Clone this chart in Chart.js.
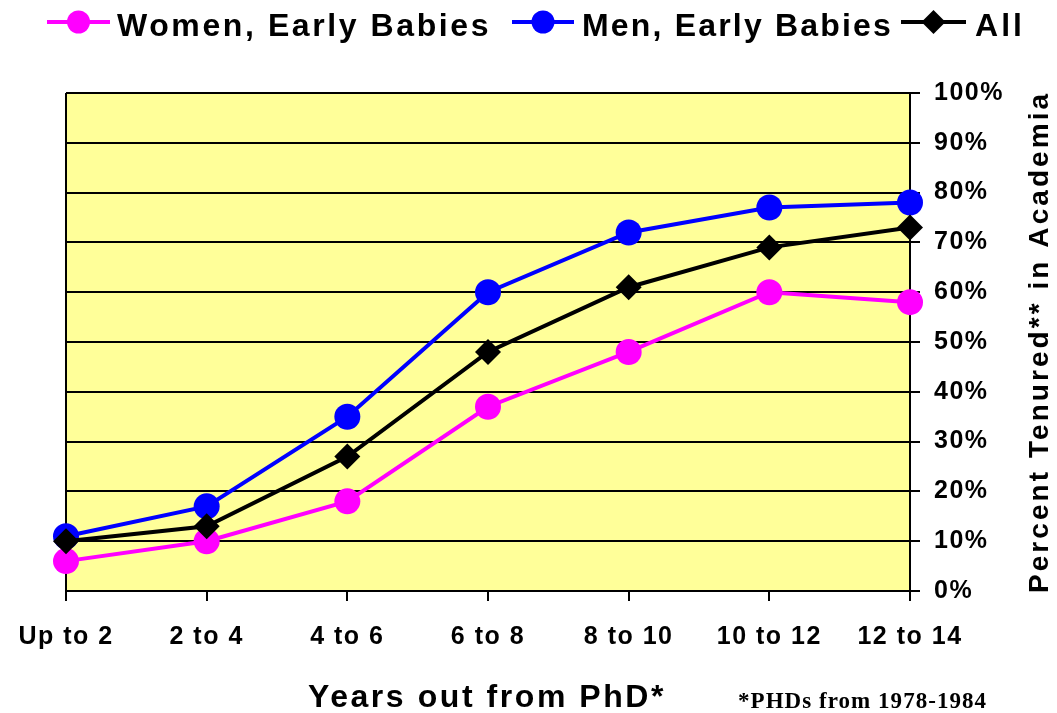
<!DOCTYPE html>
<html>
<head>
<meta charset="utf-8">
<script src="https://cdn.jsdelivr.net/npm/chart.js@4.4.1/dist/chart.umd.min.js"></script>
<style>
  html, body { margin: 0; padding: 0; background: #fff; }
  #wrap { width: 1057px; height: 713px; }
</style>
</head>
<body>
<div id="wrap"><canvas id="tenureChart" width="1057" height="713"></canvas></div>
<script>
// Данные с графика
const categories = ['Up to 2', '2 to 4', '4 to 6', '6 to 8', '8 to 10', '10 to 12', '12 to 14'];
const womenEarly = [6, 10, 18, 37, 48, 60, 58];
const menEarly = [11, 17, 35, 60, 72, 77, 78];
const allPhd = [10, 13, 27, 48, 61, 69, 73];
const yTicks = [0, 10, 20, 30, 40, 50, 60, 70, 80, 90, 100];

const seriesNames = ['Women, Early Babies', 'Men, Early Babies', 'All'];
const yTitle = 'Percent Tenured** in Academia';
const xTitle = 'Years out from PhD*';
const footnote = '*PHDs from 1978-1984';

const SANS = '"Liberation Sans", Arial, sans-serif';
const SERIF = '"Liberation Serif", "Times New Roman", serif';
const TICK_SPACING = '1.5px';

// текст нужной ширины (подгоняем межбуквенный интервал)
function fitText(ctx, text, x, y, width, align) {
    const prev = ctx.letterSpacing;
    ctx.letterSpacing = '0px';
    const w = ctx.measureText(text).width;
    const sp = (width - w) / text.length;
    ctx.letterSpacing = sp.toFixed(2) + 'px';
    let start = x;
    if (align === 'center') start = x - width / 2;
    if (align === 'right') start = x - width;
    ctx.textAlign = 'left';
    ctx.fillText(text, start, y);
    ctx.letterSpacing = prev;
}

function drawMarker(ctx, style, x, y, r, color) {
    ctx.fillStyle = color;
    ctx.beginPath();
    if (style === 'circle') {
        ctx.arc(x, y, r, 0, Math.PI * 2);
    } else {
        ctx.moveTo(x, y - r);
        ctx.lineTo(x + r, y);
        ctx.lineTo(x, y + r);
        ctx.lineTo(x - r, y);
        ctx.closePath();
    }
    ctx.fill();
}

const plotBackground = {
    id: 'plotBackground',
    beforeUpdate(chart) {
        chart.ctx.letterSpacing = TICK_SPACING;
    },
    beforeDraw(chart) {
        const { ctx, chartArea: a } = chart;
        ctx.letterSpacing = TICK_SPACING;
        ctx.save();
        ctx.fillStyle = '#FFFF99';
        ctx.fillRect(a.left, a.top, a.right - a.left, a.bottom - a.top);
        ctx.restore();
    },
    beforeDatasetsDraw(chart) {
        const { ctx, chartArea: a } = chart;
        ctx.save();
        ctx.strokeStyle = '#000';
        ctx.lineWidth = 2;
        ctx.beginPath();
        ctx.moveTo(a.left, a.bottom);
        ctx.lineTo(a.left, a.top);
        ctx.stroke();
        ctx.restore();
    }
};

const extraTexts = {
    id: 'extraTexts',
    afterDraw(chart) {
        const { ctx, chartArea: a } = chart;
        ctx.save();
        ctx.fillStyle = '#000';
        ctx.textBaseline = 'alphabetic';

        // легенда
        const legendItems = [
            { lineFrom: 47, lineTo: 110, textX: 117, textW: 374 },
            { lineFrom: 512, lineTo: 574, textX: 582, textW: 311 },
            { lineFrom: 901, lineTo: 966, textX: 975, textW: 50 }
        ];
        const ly = 22;
        chart.data.datasets.forEach((ds, i) => {
            const it = legendItems[i];
            ctx.strokeStyle = ds.borderColor;
            ctx.lineWidth = 4;
            ctx.beginPath();
            ctx.moveTo(it.lineFrom, ly);
            ctx.lineTo(it.lineTo, ly);
            ctx.stroke();
            drawMarker(ctx, ds.pointStyle, (it.lineFrom + it.lineTo) / 2, ly, ds.pointStyle === 'circle' ? 11.5 : 12, ds.pointBackgroundColor);
            ctx.fillStyle = '#000';
            ctx.font = 'bold 32px ' + SANS;
            fitText(ctx, ds.label, it.textX, 36, it.textW, 'left');
        });

        // подпись оси X
        ctx.font = 'bold 32px ' + SANS;
        fitText(ctx, xTitle, 308, 707, 358, 'left');

        // сноска
        ctx.font = 'bold 23px ' + SERIF;
        fitText(ctx, footnote, 738, 708, 249, 'left');

        // подпись оси Y (снизу вверх)
        ctx.save();
        ctx.translate(1048, (a.top + a.bottom) / 2);
        ctx.rotate(-Math.PI / 2);
        ctx.font = 'bold 28px ' + SANS;
        fitText(ctx, yTitle, 0, 0, 502, 'center');
        ctx.restore();

        ctx.restore();
    }
};

function makeSet(label, data, color, style, radius, order) {
    return {
        label: label,
        data: data,
        order: order,
        borderColor: color,
        backgroundColor: color,
        pointBackgroundColor: color,
        pointBorderColor: color,
        pointBorderWidth: 0,
        pointStyle: style,
        pointRadius: radius,
        pointHoverRadius: radius,
        borderWidth: 4,
        tension: 0,
        clip: false
    };
}

const ctx = document.getElementById('tenureChart').getContext('2d');
window.tenureChart = new Chart(ctx, {
    type: 'line',
    data: {
        labels: categories,
        datasets: [
            makeSet(seriesNames[0], womenEarly, '#FF00FF', 'circle', 13, 2),
            makeSet(seriesNames[1], menEarly, '#0000FF', 'circle', 13, 1),
            makeSet(seriesNames[2], allPhd, '#000000', 'rectRot', 13, 0)
        ]
    },
    options: {
        responsive: false,
        animation: false,
        layout: { padding: { left: 66, top: 93, right: 0, bottom: 0 } },
        plugins: {
            legend: { display: false },
            tooltip: { enabled: false }
        },
        scales: {
            x: {
                type: 'category',
                offset: false,
                afterFit(scale) {
                    scale.height = 122;
                    scale.paddingLeft = 0;
                    scale.paddingRight = 0;
                },
                grid: {
                    drawOnChartArea: false,
                    drawTicks: true,
                    tickLength: 10,
                    color: '#000',
                    lineWidth: 2
                },
                border: { display: true, color: '#000', width: 2 },
                ticks: {
                    color: '#000',
                    padding: 21,
                    maxRotation: 0,
                    autoSkip: false,
                    font: { family: SANS, size: 25, weight: 'bold' }
                }
            },
            y: {
                position: 'right',
                min: 0,
                max: 100,
                afterFit(scale) { scale.width = 147; },
                afterBuildTicks(scale) { scale.ticks = yTicks.map(v => ({ value: v })); },
                grid: {
                    color: '#000',
                    lineWidth: 2,
                    tickLength: 10
                },
                border: { display: true, color: '#000', width: 2 },
                ticks: {
                    color: '#000',
                    padding: 14,
                    font: { family: SANS, size: 25, weight: 'bold' },
                    callback: v => v + '%'
                }
            }
        }
    },
    plugins: [plotBackground, extraTexts]
});
</script>
</body>
</html>
